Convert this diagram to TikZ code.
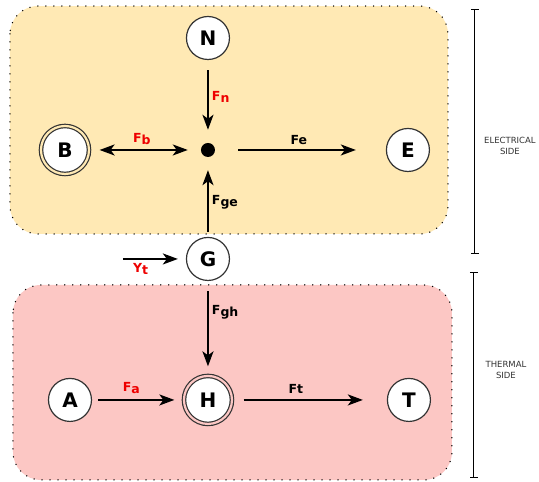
\documentclass[tikz,border=0pt]{standalone}
\usepackage{fontspec}
\setmainfont{DejaVu Sans}
\usetikzlibrary{arrows.meta,automata,positioning}

\definecolor{elecbg}{HTML}{FFE9B4}
\definecolor{thermbg}{HTML}{FCC7C4}
\definecolor{ringcol}{HTML}{333333}
\definecolor{forcered}{HTML}{EE0000}
\newcommand{\fsub}[1]{\raisebox{-2pt}{#1}}

\begin{document}
\begin{tikzpicture}[x=1pt,y=-1pt,>={Stealth[length=15pt,width=11pt,inset=4pt]},
                    every state/.style={draw=ringcol,fill=white,line width=1.2pt,
                      minimum size=43pt,inner sep=0pt,font=\fontsize{20}{20}\selectfont\bfseries},
                    sink/.style={double=#1,double distance=2.2pt,minimum size=48pt},
                    junction/.style={circle,fill=black,minimum size=14pt,inner sep=0pt},
                    force/.style={->,line width=2pt},
                    flabel/.style={font=\fontsize{12.5}{12.5}\selectfont\bfseries,inner sep=2pt},
                    side/.style={fill=#1,draw=black,line width=1.5pt,line cap=round,
                      dash pattern=on 0pt off 8pt,rounded corners=28pt},
                    sidetext/.style={font=\fontsize{8.5}{11}\selectfont,text=ringcol,align=center}]
  \fill[white] (0,0) rectangle (539,482);

  % background regions
  \draw[side=elecbg]  (10,6)   rectangle (448,234);
  \draw[side=thermbg] (13,285) rectangle (452,480);

  \node[state]                     (N) at (208,38)            {N};
  \node[junction]                  (J) [below of=N, node distance=112pt] {};
  \node[state,sink=elecbg]         (B) [left of=J, node distance=143pt]  {B};
  \node[state]                     (E) [right of=J, node distance=200pt] {E};
  \node[state]                     (G) [below of=J, node distance=109pt] {G};
  \node[state,sink=thermbg]        (H) [below of=G, node distance=141pt] {H};
  \node[state]                     (A) [left of=H, node distance=138pt]  {A};
  \node[state]                     (T) [right of=H, node distance=201pt] {T};
  \coordinate                      (Y) at (123,259);

  \draw[force,shorten <=10pt,shorten >=13pt] (N) -- node[flabel,right,pos=0.44,xshift=1pt,text=forcered] {F\fsub{n}} (J);
  \draw[force,<->,shorten <=10pt,shorten >=13pt] (B) -- node[flabel,above,pos=0.47,yshift=2pt,text=forcered] {F\fsub{b}} (J);
  \draw[force,shorten <=23pt,shorten >=30pt] (J) -- node[flabel,above,pos=0.49,yshift=2pt] {Fe} (E);
  \draw[force,shorten <=5pt,shorten >=13pt] (G) -- node[flabel,right,pos=0.44,xshift=1pt] {F\fsub{ge}} (J);
  \draw[force,shorten >=8pt] (Y) -- node[flabel,below,pos=0.28,yshift=-1pt,text=forcered] {Y\fsub{t}} (G);
  \draw[force,shorten <=10pt,shorten >=9pt] (G) -- node[flabel,right,pos=0.33,xshift=1pt] {F\fsub{gh}} (H);
  \draw[force,shorten <=6pt,shorten >=9pt] (A) -- node[flabel,above,pos=0.43,yshift=3pt,text=forcered] {F\fsub{a}} (H);
  \draw[force,shorten <=11pt,shorten >=24pt] (H) -- node[flabel,above,pos=0.41,yshift=3pt] {Ft} (T);

  % side markers
  \coordinate (eltop) at (475,9);
  \coordinate (elbot) at (475,254);
  \coordinate (thtop) at (474,272);
  \coordinate (thbot) at (474,478);
  \draw[{Bar[width=8pt]}-{Bar[width=8pt]},line width=1pt] (eltop) -- (elbot);
  \draw[{Bar[width=8pt]}-{Bar[width=8pt]},line width=1pt] (thtop) -- (thbot);
  \node[sidetext] (elside) at (510,146) {ELECTRICAL\\SIDE};
  \node[sidetext] (thside) at (506,370) {THERMAL\\SIDE};
\end{tikzpicture}
\end{document}
